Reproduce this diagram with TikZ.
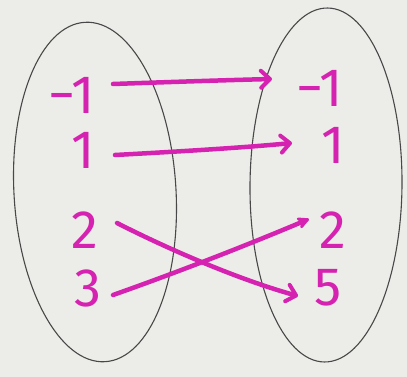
\documentclass[tikz,border=0pt]{standalone}
\usepackage{fontspec}
\setmainfont{Fira Sans}
\usetikzlibrary{arrows.meta}
\definecolor{ink}{RGB}{214,34,176}
\definecolor{paper}{RGB}{236,236,233}
\definecolor{pencil}{RGB}{72,72,72}
\begin{document}
\begin{tikzpicture}[x=1pt,y=-1pt,
  lbl/.style={text=ink,font=\fontsize{54}{54}\selectfont,inner sep=0pt},
  map/.style={draw=ink,line width=4.5pt,line cap=round,
    -{Straight Barb[length=9pt,width=17pt,line width=4pt,round]}},
  mapfill/.style={draw=ink,line width=4.5pt,line cap=round,
    -{Stealth[length=15pt,width=15pt,round]}},
  setline/.style={draw=pencil,line width=1.1pt}]
\fill[paper] (0,0) rectangle (407,377);
\useasboundingbox (0,0) rectangle (407,377);
% sets
\draw[setline,rotate around={3.4:(95,192)}] (95,192) ellipse [x radius=81,y radius=170];
\draw[setline,rotate around={-0.5:(326,185)}] (326,185) ellipse [x radius=76,y radius=177];
% domain
\node[lbl] (a1) at (72,95) {−1};
\node[lbl] (a2) at (83,150) {1};
\node[lbl] (a3) at (85,230) {2};
\node[lbl] (a4) at (88,288) {3};
% range
\node[lbl] (b1) at (320,88) {−1};
\node[lbl] (b2) at (333,145) {1};
\node[lbl] (b3) at (333,230) {2};
\node[lbl] (b4) at (328,288) {5};
% mapping
\draw[map] ([shift={(41,-11)}]a1.center) .. controls (170,82) and (230,80) .. ([shift={(-48,-9)}]b1.center);
\draw[map] ([shift={(32,5)}]a2.center) .. controls (170,152) and (240,148) .. ([shift={(-41,-2)}]b2.center);
\draw[map] ([shift={(32,-7)}]a3.center) .. controls (170,250) and (240,280) .. ([shift={(-30,8)}]b4.center);
\draw[mapfill] ([shift={(25,7)}]a4.center) .. controls (178,272) and (245,246) .. ([shift={(-24,-11)}]b3.center);
\end{tikzpicture}
\end{document}
